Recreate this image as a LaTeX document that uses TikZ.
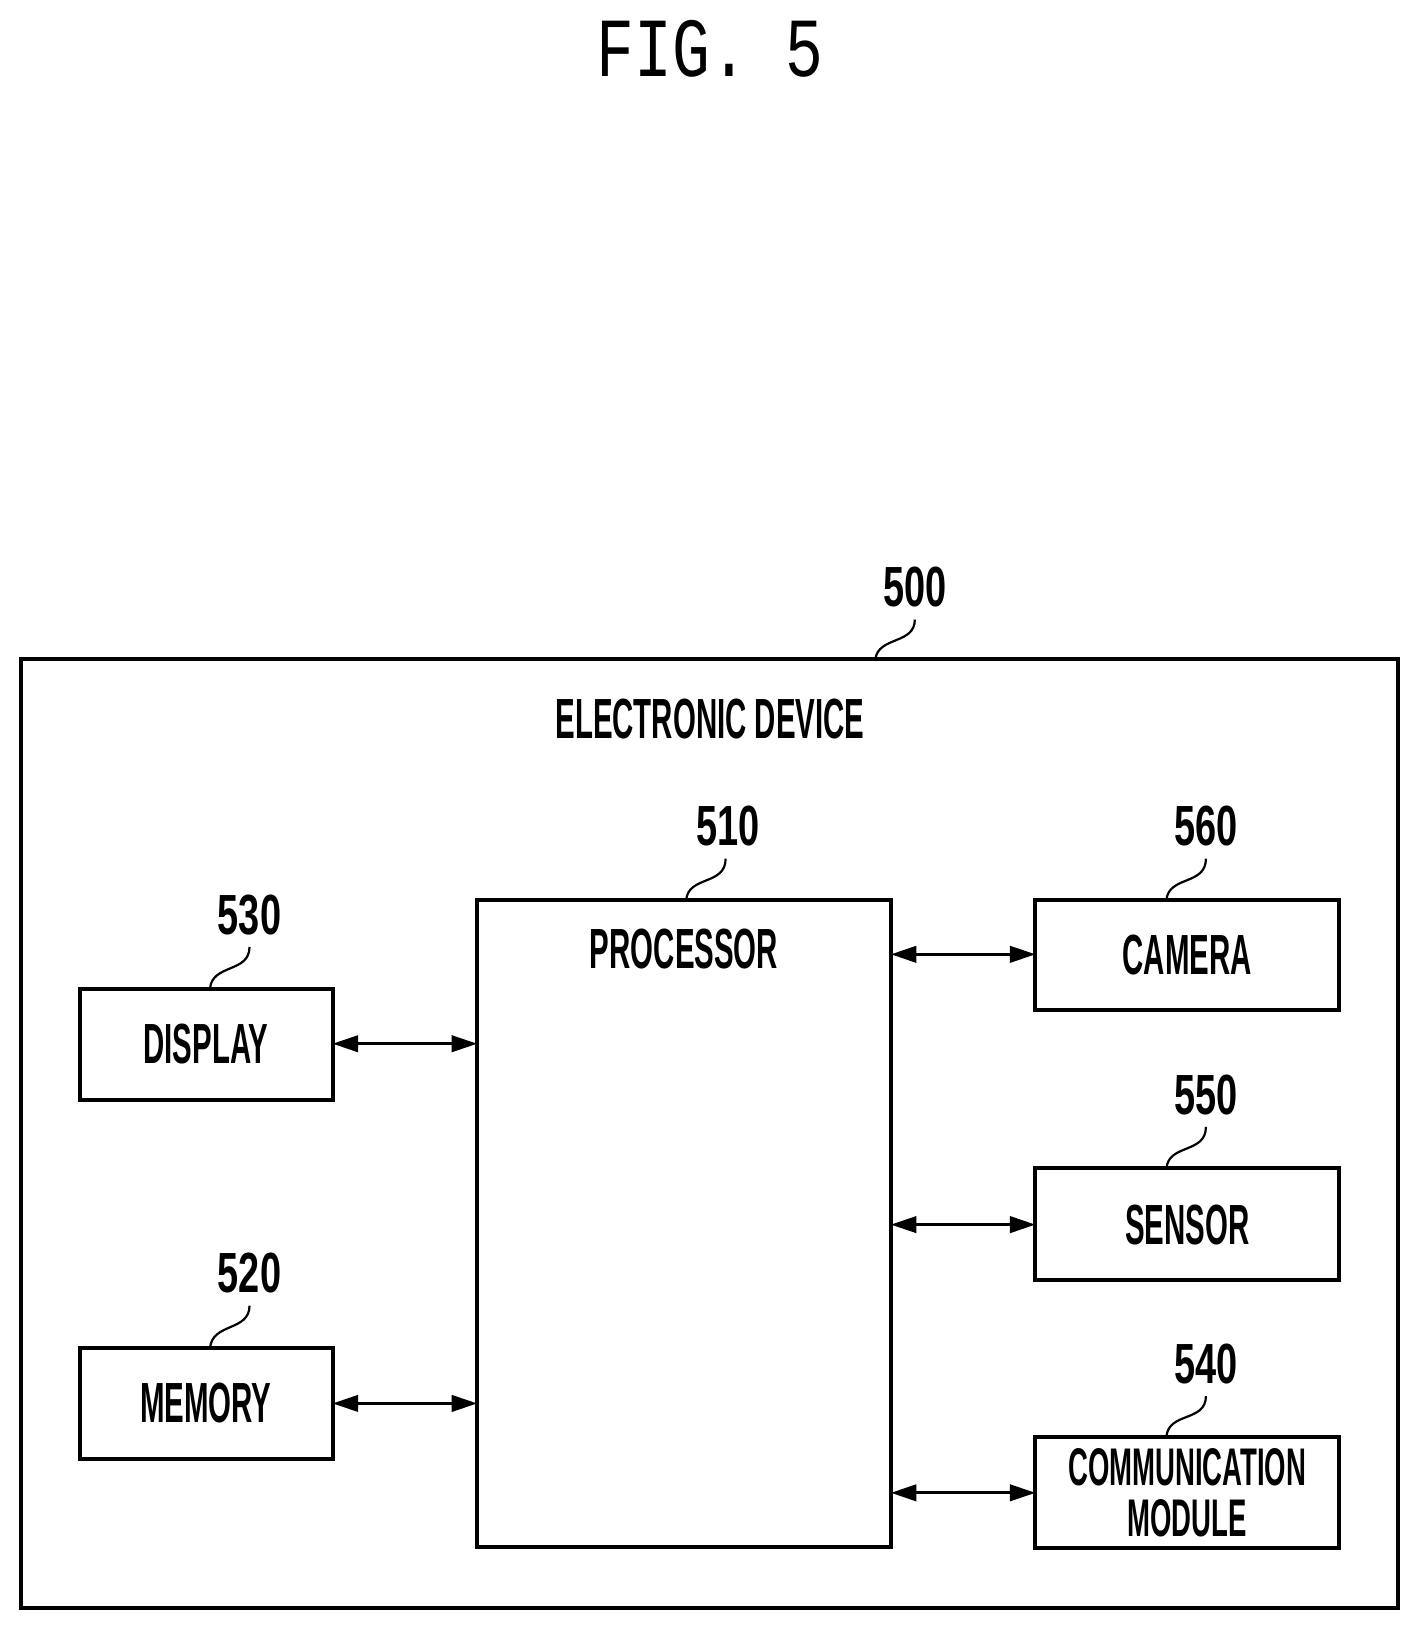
\documentclass[tikz,border=0pt]{standalone}
\usepackage{fontspec}
\setmainfont{Liberation Sans}
\newfontfamily\monof{Liberation Mono}
\usetikzlibrary{arrows.meta}
\newcommand{\cnd}[1]{\scalebox{0.52}[1]{#1}}
\newcommand{\cnum}[1]{\scalebox{0.67}[1]{#1}}
\begin{document}
\begin{tikzpicture}[x=0.02cm,y=-0.02cm,
  box/.style={draw,line width=2.2pt},
  lbl/.style={font=\fontsize{31}{33}\selectfont\bfseries,align=center},
  num/.style={font=\fontsize{31}{33}\selectfont\bfseries},
  lead/.style={line width=1.2pt},
  link/.style={line width=1.6pt,{Triangle[length=14pt,width=9pt]}-{Triangle[length=14pt,width=9pt]}}]
\useasboundingbox (0,0) rectangle (1365,1567);
\node[font=\monof\fontsize{46}{48}\selectfont] (fig) at (683,47) {\scalebox{0.75}[1]{FIG. 5}};
\draw[box] (20,634) rectangle (1345,1547);
\coordinate (outer) at (842,634);
\node[num] (n500) at (880,565) {\cnum{500}};
\draw[lead] (880,596) .. controls (880,620) and (845,612) .. (outer);
\node[lbl] (ed) at (683,692) {\cnd{ELECTRONIC DEVICE}};
% processor
\draw[box] (459,866) rectangle (857,1488);
\node[lbl] (proc) at (658,913) {\cnd{PROCESSOR}};
\node[num] (n510) at (700,795) {\cnum{510}};
\draw[lead] (698,826) .. controls (698,852) and (662,842) .. (660,866);
% left
\draw[box] (77,951) rectangle (320,1058);
\node[lbl] (disp) at (198,1004) {\cnd{DISPLAY}};
\node[num] (n530) at (240,880) {\cnum{530}};
\draw[lead] (240,911) .. controls (240,936) and (204,927) .. (202,951);
\draw[box] (77,1297) rectangle (320,1403);
\node[lbl] (mem) at (198,1350) {\cnd{MEMORY}};
\node[num] (n520) at (240,1225) {\cnum{520}};
\draw[lead] (240,1256) .. controls (240,1281) and (204,1272) .. (202,1297);
% right
\draw[box] (996,866) rectangle (1288,972);
\node[lbl] (cam) at (1142,919) {\cnd{CAMERA}};
\node[num] (n560) at (1160,795) {\cnum{560}};
\draw[lead] (1160,826) .. controls (1160,852) and (1124,842) .. (1122,866);
\draw[box] (996,1124) rectangle (1288,1231);
\node[lbl] (sen) at (1142,1178) {\cnd{SENSOR}};
\node[num] (n550) at (1160,1053) {\cnum{550}};
\draw[lead] (1160,1084) .. controls (1160,1110) and (1124,1100) .. (1122,1124);
\draw[box] (996,1382) rectangle (1288,1489);
\node[lbl,font=\fontsize{29}{31}\selectfont\bfseries] (com) at (1142,1436) {\cnd{COMMUNICATION}\\[-3pt]\cnd{MODULE}};
\node[num] (n540) at (1160,1312) {\cnum{540}};
\draw[lead] (1160,1343) .. controls (1160,1368) and (1124,1358) .. (1122,1382);
% arrows
\coordinate (dL) at (320,1004); \coordinate (dR) at (459,1004);
\coordinate (mL) at (320,1350); \coordinate (mR) at (459,1350);
\coordinate (cL) at (857,918); \coordinate (cR) at (996,918);
\coordinate (sL) at (857,1178); \coordinate (sR) at (996,1178);
\coordinate (kL) at (857,1436); \coordinate (kR) at (996,1436);
\draw[link] (dL) -- (dR);
\draw[link] (mL) -- (mR);
\draw[link] (cL) -- (cR);
\draw[link] (sL) -- (sR);
\draw[link] (kL) -- (kR);
\end{tikzpicture}
\end{document}
